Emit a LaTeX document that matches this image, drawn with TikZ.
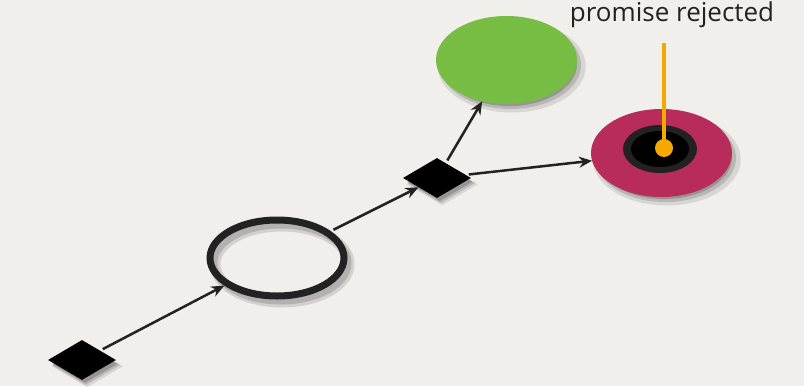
\documentclass[tikz,border=0pt]{standalone}
\usepackage{fontspec}
\setmainfont{Open Sans}
\usetikzlibrary{shapes.geometric,shadows,arrows.meta}
\definecolor{bg}{HTML}{F0EFEB}
\definecolor{gr}{HTML}{78BD43}
\definecolor{rd}{HTML}{B82C5C}
\definecolor{og}{HTML}{F5A800}
\definecolor{dk}{HTML}{222222}
\tikzset{
  softshadow/.style={
    drop shadow={shadow xshift=5pt,shadow yshift=-6pt,opacity=.10,fill=black,shadow scale=1.05},
    drop shadow={shadow xshift=4pt,shadow yshift=-5pt,opacity=.14,fill=black,shadow scale=1.0},
    drop shadow={shadow xshift=3pt,shadow yshift=-4pt,opacity=.18,fill=black,shadow scale=0.96}},
  decision/.style={diamond,fill=black,minimum width=68pt,minimum height=40pt,inner sep=0pt,aspect=1.7,softshadow},
  blob/.style={ellipse,minimum width=141pt,minimum height=88pt,inner sep=0pt,outer sep=0pt,softshadow},
  ring/.style={ellipse,draw=dk,line width=7pt,minimum width=134pt,minimum height=76pt,inner sep=0pt,
    preaction={draw=black,opacity=.12,line width=11pt,transform canvas={shift={(5pt,-6pt)}}},
    preaction={draw=black,opacity=.15,line width=7pt,transform canvas={shift={(4pt,-5pt)}}}},
  flow/.style={draw=dk,line width=2.5pt,-{Stealth[length=13pt,width=11pt]},shorten <=3pt},
  lbl/.style={font=\fontsize{26}{30}\selectfont,text=dk}
}
\begin{document}
\begin{tikzpicture}[x=1pt,y=-1pt]
\fill[bg] (0,0) rectangle (804,386);
\useasboundingbox (0,0) rectangle (804,386);
\node[decision] (d1) at (82,360) {};
\node[ring] (p1) at (277,258) {};
\node[decision] (d2) at (437,178) {};
\node[blob,fill=gr] (ok) at (506.5,60) {};
\node[blob,fill=rd] (no) at (661.5,153) {};
\node[ellipse,fill=dk,minimum width=74pt,minimum height=48pt,inner sep=0pt] (nr) at (660,149) {};
\node[ellipse,fill=black,minimum width=58pt,minimum height=36pt,inner sep=0pt] (nc) at (660,149) {};
\node[circle,fill=og,minimum size=18pt,inner sep=0pt] (dot) at (664,148) {};
\coordinate (top) at (664,43);
\draw[og,line width=4pt] (top) -- (dot.center);
\node[lbl] (t) at (672,15) {promise rejected};
\draw[flow] (d1) -- (p1);
\draw[flow] (p1) -- (d2);
\draw[flow] (d2) -- (ok);
\draw[flow] (d2) -- (no);
\end{tikzpicture}
\end{document}
